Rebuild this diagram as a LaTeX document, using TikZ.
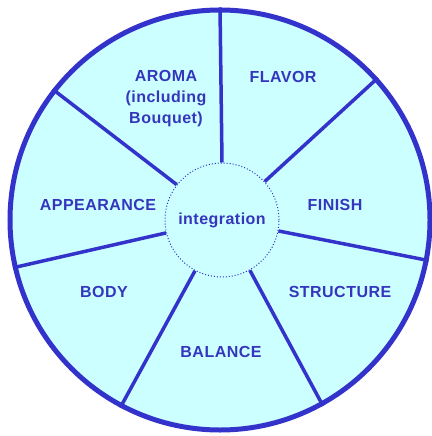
\documentclass[tikz,border=0pt]{standalone}
\usepackage{fontspec}
\newfontfamily\wheelfont[LetterSpace=3]{Liberation Sans}
\usepackage{tikz}
\definecolor{rim}{HTML}{3333CC}
\definecolor{ink}{HTML}{3535BE}
\definecolor{paleaqua}{HTML}{CCFFFF}
\tikzstyle{wheel}=[circle,draw=rim,fill=paleaqua,line width=5bp,inner sep=0mm,minimum size=420bp]
\tikzstyle{hub}=[circle,draw=rim,fill=paleaqua,line width=1bp,dotted,inner sep=0mm,minimum size=114bp,text=ink,font=\wheelfont\bfseries\fontsize{16bp}{20bp}\selectfont]
\tikzstyle{spoke}=[rim,line width=3.5bp]
\tikzstyle{facet}=[text=ink,inner sep=0mm,font=\wheelfont\bfseries\fontsize{16bp}{21bp}\selectfont]

\begin{document}
\begin{tikzpicture}[x=1bp,y=-1bp]
    \useasboundingbox (0,0) rectangle (431,436);
    \node[wheel] at (220,220) (wheel) {};
    \node[hub] at (222,220) (hub) {integration};
    \draw[spoke] (hub.90) -- (wheel.90);
    \draw[spoke] (hub.42) -- (wheel.42);
    \draw[spoke] (hub.-11) -- (wheel.-11);
    \draw[spoke] (hub.-61) -- (wheel.-61);
    \draw[spoke] (hub.-118) -- (wheel.-118);
    \draw[spoke] (hub.193) -- (wheel.193);
    \draw[spoke] (hub.142) -- (wheel.142);
    \node[facet,align=center] at (166,99) (aroma) {AROMA\\(including\\Bouquet)};
    \node[facet,anchor=base] at (283,83) (flavor) {FLAVOR};
    \node[facet,anchor=base] at (335,211) (finish) {FINISH};
    \node[facet,anchor=base] at (340,297) (structure) {STRUCTURE};
    \node[facet,anchor=base] at (221,357) (balance) {BALANCE};
    \node[facet,anchor=base] at (104,297) (body) {BODY};
    \node[facet,anchor=base] at (98,211) (appearance) {APPEARANCE};
\end{tikzpicture}
\end{document}
